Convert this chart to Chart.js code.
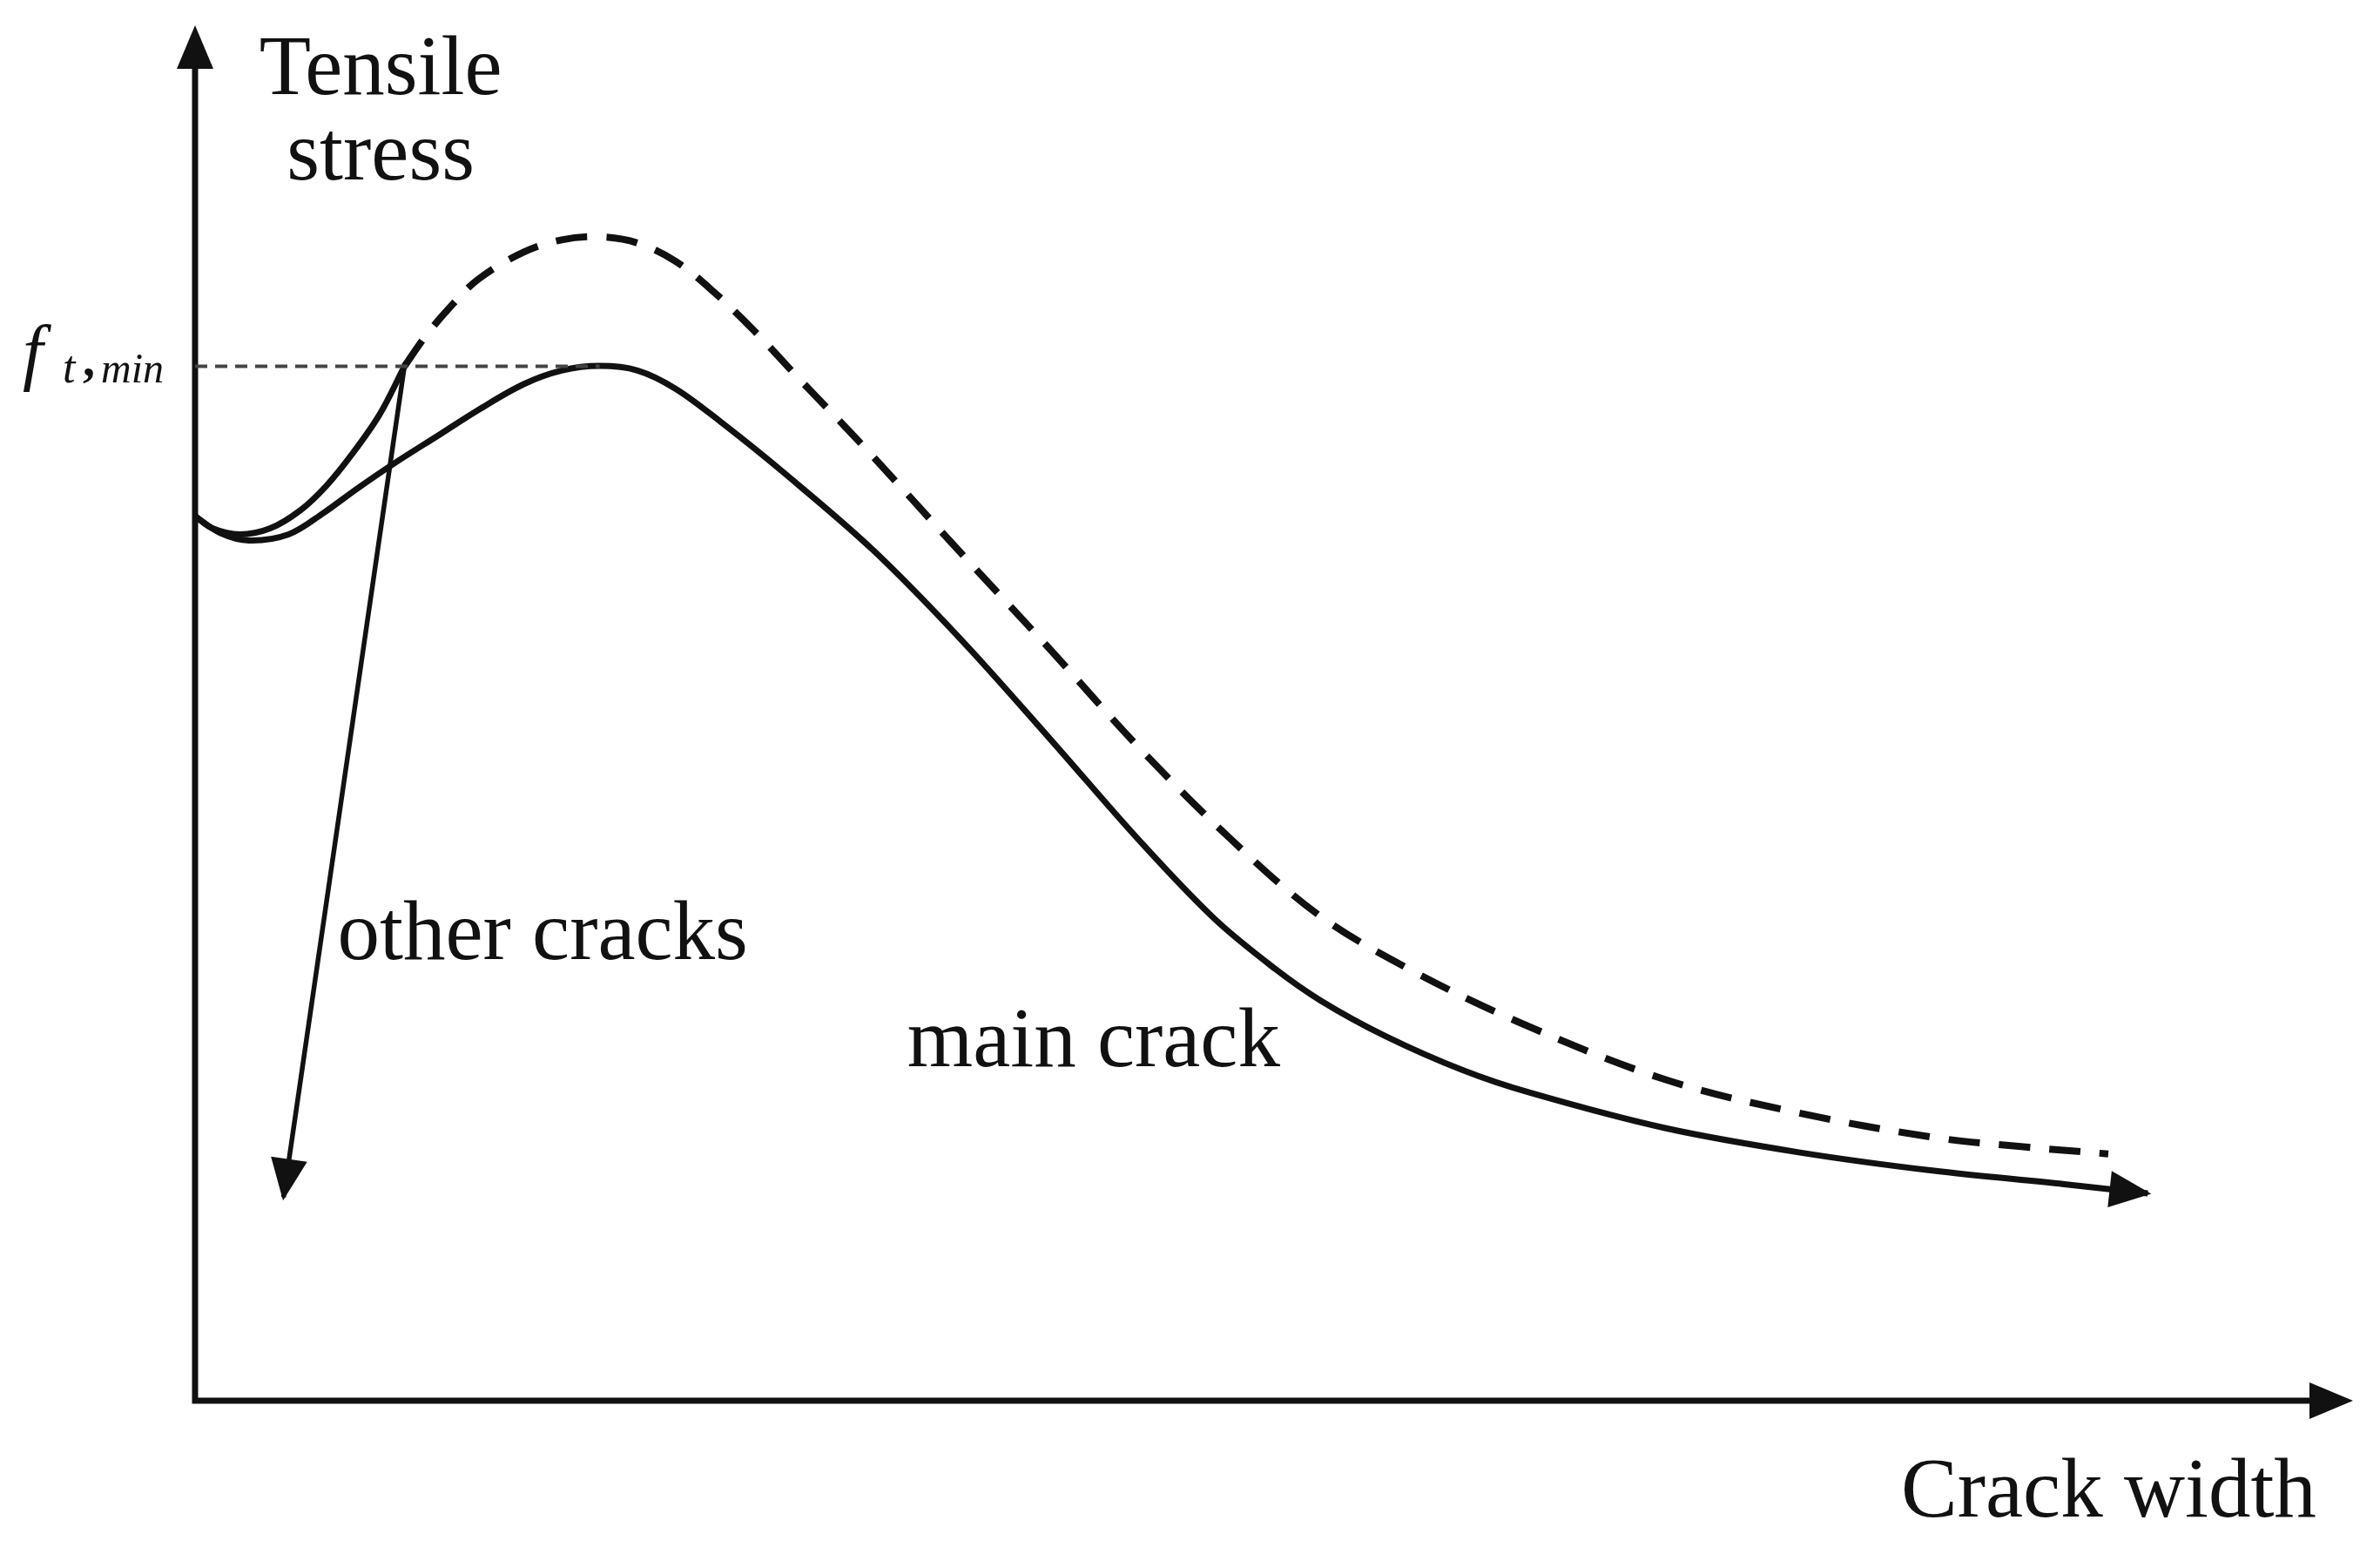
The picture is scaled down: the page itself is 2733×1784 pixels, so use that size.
<!DOCTYPE html>
<html>
<head>
<meta charset="utf-8">
<script src="https://cdn.jsdelivr.net/npm/chart.js@4.4.1/dist/chart.umd.min.js"></script>
<style>
  html, body { margin: 0; padding: 0; background: #fff; }
  #wrap { width: 2733px; height: 1784px; position: relative; }
</style>
</head>
<body>
<div id="wrap"><canvas id="crackChart"></canvas></div>
<script>
// crack width on x, tensile stress on y, both in arbitrary units (0-100)
const mainCrackX = [0, 1.16, 2.50, 4.33, 5.94, 7.49, 9.25, 11.36, 13.12, 15.23, 16.99, 18.75, 20.50, 22.26, 24.37, 27.26, 31.40, 35.48, 39.64, 43.72, 47.23, 50.04, 52.16, 55.11, 58.77, 61.93, 68.12, 74.31, 80.50, 86.62, 90.49];
const mainCrackY = [64.31, 63.09, 62.54, 62.98, 64.53, 66.29, 68.17, 70.27, 72.03, 73.91, 74.90, 75.23, 74.90, 73.58, 71.15, 67.50, 61.87, 55.36, 48.08, 40.79, 35.05, 31.41, 29.09, 26.55, 24.02, 22.36, 19.82, 18.06, 16.73, 15.74, 15.07];

const envelopeX = [9.7, 10.65, 11.71, 13.12, 15.23, 16.99, 18.75, 20.50, 22.26, 24.02, 25.92, 27.96, 30.98, 35.48, 39.64, 43.72, 47.87, 52.01, 56.09, 61.30, 68.12, 74.31, 80.50, 84.51, 88.66];
const envelopeY = [75.2, 77.33, 79.32, 81.53, 83.51, 84.40, 84.62, 84.17, 82.85, 80.64, 77.77, 74.35, 69.38, 61.65, 54.59, 47.52, 41.01, 35.38, 31.52, 27.55, 23.35, 20.92, 19.16, 18.49, 17.94];

const otherRiseX = [0, 0.81, 2.07, 3.48, 4.89, 6.08, 7.28, 8.55, 9.7];
const otherRiseY = [64.31, 63.42, 62.98, 63.42, 64.75, 66.51, 68.83, 71.70, 75.2];

const otherDropX = [9.7, 4.1];
const otherDropY = [75.2, 14.8];

const ftMin = 75.2;
const ftMinX = [0, 18.75];

const toPoints = (xs, ys) => xs.map((x, i) => ({ x: x, y: ys[i] }));

const textLabels = [
    { text: 'Tensile', x: 8.6, y: 95.0, align: 'center' },
    { text: 'stress', x: 8.6, y: 88.8, align: 'center' },
    { text: 'other cracks', x: 6.6, y: 32.1, align: 'left' },
    { text: 'main crack', x: 33.0, y: 24.3, align: 'left' },
    { text: 'Crack width', x: 98.3, y: -8.4, align: 'right' }
];

function arrowHead(ctx, x, y, angle, len, half) {
    ctx.save();
    ctx.translate(x, y);
    ctx.rotate(angle);
    ctx.beginPath();
    ctx.moveTo(0, 0);
    ctx.lineTo(-len, -half);
    ctx.lineTo(-len, half);
    ctx.closePath();
    ctx.fillStyle = '#111';
    ctx.fill();
    ctx.restore();
}

const sketchPlugin = {
    id: 'sketch',
    beforeDatasetsDraw(chart) {
        const ctx = chart.ctx;
        const xs = chart.scales.x, ys = chart.scales.y;
        const x0 = xs.getPixelForValue(xs.min), y0 = ys.getPixelForValue(ys.min);
        const x1 = xs.getPixelForValue(xs.max), y1 = ys.getPixelForValue(ys.max);
        ctx.save();
        ctx.strokeStyle = '#111';
        ctx.lineWidth = 7;
        ctx.beginPath();
        ctx.moveTo(x0, y0 + 3.5);
        ctx.lineTo(x0, y1 + 40);
        ctx.moveTo(x0 - 3.5, y0);
        ctx.lineTo(x1 - 40, y0);
        ctx.stroke();
        ctx.restore();
        arrowHead(ctx, x0, y1, -Math.PI / 2, 50, 21);
        arrowHead(ctx, x1, y0, 0, 50, 21);
    },
    afterDatasetsDraw(chart) {
        const ctx = chart.ctx;
        const xs = chart.scales.x, ys = chart.scales.y;
        chart.data.datasets.forEach((ds, i) => {
            if (!ds.arrow) return;
            const pts = chart.getDatasetMeta(i).data;
            const a = pts[pts.length - 2], b = pts[pts.length - 1];
            const ang = Math.atan2(b.y - a.y, b.x - a.x);
            arrowHead(ctx, b.x + 4 * Math.cos(ang), b.y + 4 * Math.sin(ang), ang, 48, 21);
        });

        ctx.save();
        ctx.fillStyle = '#111';
        ctx.textBaseline = 'alphabetic';
        ctx.font = '97px "Liberation Serif", "Times New Roman", serif';
        textLabels.forEach(l => {
            ctx.textAlign = l.align;
            ctx.fillText(l.text, xs.getPixelForValue(l.x), ys.getPixelForValue(l.y));
        });

        // f_t,min label on the left of the y axis
        const yb = ys.getPixelForValue(ftMin);
        ctx.textAlign = 'left';
        ctx.font = 'italic 84px "Liberation Serif", serif';
        ctx.fillText('f', 26, yb + 11);
        ctx.font = 'italic 52px "Liberation Serif", serif';
        ctx.fillText('t', 72, yb + 18);
        ctx.font = 'bold 56px "Liberation Serif", serif';
        ctx.fillText(',', 95, yb + 10);
        ctx.font = 'italic 48px "Liberation Serif", serif';
        ctx.fillText('min', 116, yb + 18);
        ctx.restore();
    }
};

const ctx = document.getElementById('crackChart').getContext('2d');
const crackChart = new Chart(ctx, {
    type: 'scatter',
    data: {
        datasets: [
            {
                label: 'f_t,min',
                data: toPoints(ftMinX, [ftMin, ftMin]),
                showLine: true,
                borderColor: '#444',
                borderWidth: 4,
                borderDash: [14, 9],
                pointRadius: 0,
                clip: false
            },
            {
                label: 'envelope',
                data: toPoints(envelopeX, envelopeY),
                showLine: true,
                borderColor: '#111',
                borderWidth: 8,
                borderDash: [36, 22],
                tension: 0.35,
                pointRadius: 0,
                clip: false
            },
            {
                label: 'other cracks rise',
                data: toPoints(otherRiseX, otherRiseY),
                showLine: true,
                borderColor: '#111',
                borderWidth: 7,
                tension: 0.35,
                pointRadius: 0,
                clip: false
            },
            {
                label: 'other cracks',
                data: toPoints(otherDropX, otherDropY),
                showLine: true,
                borderColor: '#111',
                borderWidth: 5.5,
                pointRadius: 0,
                arrow: true,
                clip: false
            },
            {
                label: 'main crack',
                data: toPoints(mainCrackX, mainCrackY),
                showLine: true,
                borderColor: '#111',
                borderWidth: 7,
                tension: 0.35,
                pointRadius: 0,
                arrow: true,
                clip: false
            }
        ]
    },
    options: {
        responsive: true,
        maintainAspectRatio: false,
        animation: false,
        devicePixelRatio: 1,
        layout: { padding: { left: 224, right: 31, top: 29, bottom: 176 } },
        plugins: { legend: { display: false }, tooltip: { enabled: false } },
        scales: {
            x: { type: 'linear', min: 0, max: 100, display: false },
            y: { type: 'linear', min: 0, max: 100, display: false }
        }
    },
    plugins: [sketchPlugin]
});
</script>
</body>
</html>
